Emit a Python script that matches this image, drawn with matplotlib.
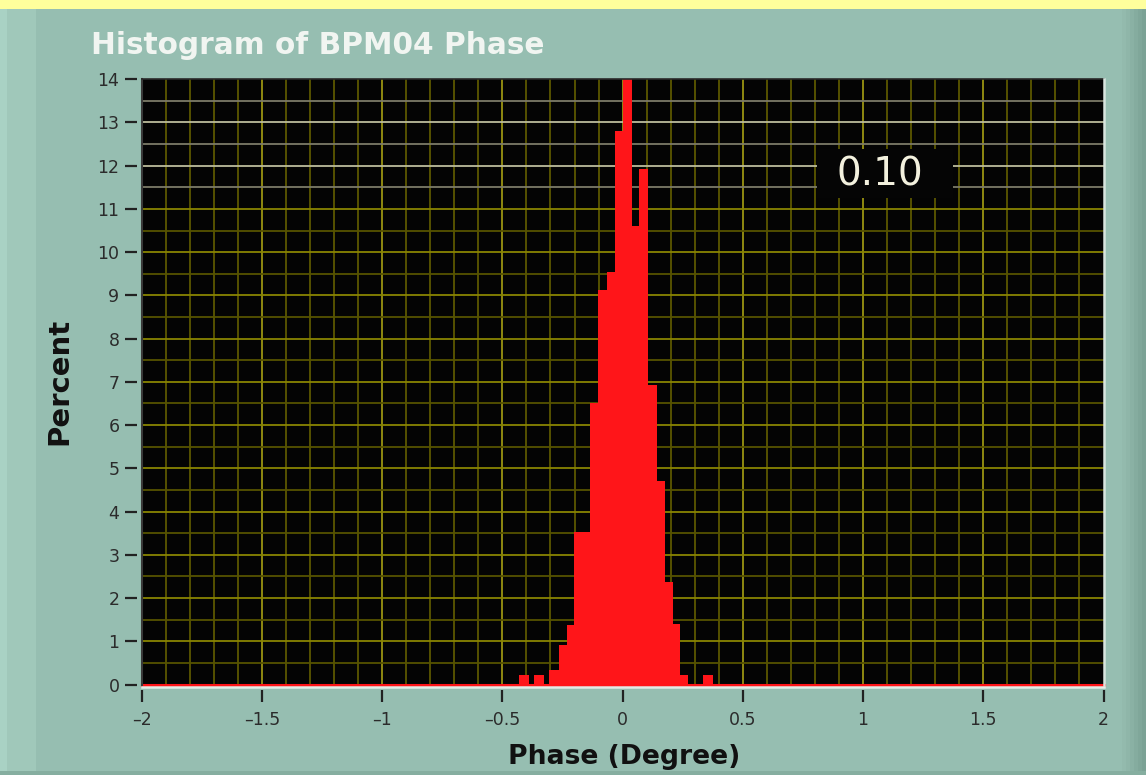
import numpy as np
import matplotlib
matplotlib.use("Agg")
import matplotlib.pyplot as plt
from matplotlib.patches import Rectangle
from matplotlib.lines import Line2D
import matplotlib.transforms as mtransforms

# ---------------- data ----------------
bin_edges = [-0.431, -0.389, -0.369, -0.327, -0.306, -0.264, -0.231, -0.202, -0.170,
             -0.137, -0.103, -0.064, -0.033, 0.001, 0.039, 0.068, 0.104, 0.143,
             0.176, 0.209, 0.239, 0.271, 0.334, 0.375]
percent = [0.22, 0.0, 0.22, 0.0, 0.33, 0.92, 1.38, 3.52, 3.52, 6.51, 9.13, 9.55,
           12.8, 14.0, 10.6, 11.92, 6.93, 4.71, 2.36, 1.39, 0.22, 0.0, 0.22]
x_ticks = [-2, -1.5, -1, -0.5, 0, 0.5, 1, 1.5, 2]
x_tick_labels = ["\u20132", "\u20131.5", "\u20131", "\u20130.5", "0", "0.5", "1", "1.5", "2"]
y_ticks = list(range(0, 15))
y_tick_labels = [str(v) for v in y_ticks]
title_text = "Histogram of BPM04 Phase"
x_label = "Phase (Degree)"
y_label = "Percent"
readout_text = "0.10"

# ---------------- figure ----------------
W, H = 1146, 775
fig = plt.figure(figsize=(W / 100, H / 100), dpi=100)
fig.patch.set_facecolor("#96BEB1")


def px_rect(x0, y0, x1, y1, color, z=0):
    fig.add_artist(Rectangle((x0 / W, 1 - y1 / H), (x1 - x0) / W, (y1 - y0) / H,
                             transform=fig.transFigure, facecolor=color,
                             edgecolor="none", zorder=z))


# panel decorations
px_rect(0, 0, W, 8.5, "#FFFF9C")
px_rect(0, 8.5, 7, H, "#A9D2C4")
px_rect(7, 8.5, 36, H, "#A0C8BA")
right_cols = ["#93BAAD", "#8FB6A9", "#8AB1A4", "#85AC9F", "#80A79A", "#7BA295"]
for i, c in enumerate(right_cols):
    px_rect(1122 + i * 4, 8.5, 1126 + i * 4, H, c)
px_rect(0, 771, W, H, "#86AEA0")

# axes
x0p, x1p = 141.7, 1103.5
y14p, y0p = 79.2, 684.5
ax = fig.add_axes([x0p / W, 1 - y0p / H, (x1p - x0p) / W, (y0p - y14p) / H])
ax.set_facecolor("#040404")
ax.set_xlim(-2, 2)
ax.set_ylim(0, 14)

# grid (drawn manually to allow per-line colours)
for k in range(-19, 20):
    v = k / 10
    major = (k % 5 == 0)
    ax.axvline(v, color="#9A9412" if major else "#5C5800", lw=1.3, zorder=0.5)
for k in range(1, 28):
    v = k / 2
    integer = (k % 2 == 0)
    if v >= 11.5:
        col = "#BDBC9C" if integer else "#7C7B68"
    else:
        col = "#8A8502" if integer else "#575300"
    ax.axhline(v, color=col, lw=1.3, zorder=0.5)

# histogram
ax.stairs(percent, bin_edges, fill=True, color="#FF1519", zorder=2)
ax.axhline(0, color="#FF1519", lw=2.2, clip_on=False, zorder=3)

# ticks
ax.set_xticks(x_ticks)
ax.set_xticklabels(x_tick_labels)
ax.set_yticks(y_ticks)
ax.set_yticklabels(y_tick_labels)
for s in ax.spines.values():
    s.set_visible(False)
ax.spines["left"].set_position(("outward", 3.6))
ax.spines["bottom"].set_position(("outward", 4.0))
ax.tick_params(which="major", direction="out", length=8.6, width=1.6,
               color="#222222", labelsize=12.5, labelcolor="#2B2B2B", pad=3.8)
ax.tick_params(axis="x", pad=6.5)

# frame (3D inset look)
ax.add_line(Line2D([0, 0], [0, 1], transform=ax.transAxes, color="#3A3A3A",
                   lw=1.5, clip_on=False, zorder=5))
ax.add_line(Line2D([0, 1], [1, 1], transform=ax.transAxes, color="#2A2A2A",
                   lw=1.2, clip_on=False, zorder=5))
ax.add_line(Line2D([1, 1], [0, 1], transform=ax.transAxes, color="#D8E5DF",
                   lw=1.8, clip_on=False, zorder=5))
off = mtransforms.offset_copy(ax.transAxes, fig=fig, x=0, y=-2.2, units="dots")
ax.add_line(Line2D([0, 1.001], [0, 0], transform=off, color="#E3ECE7",
                   lw=1.8, clip_on=False, zorder=5))

# readout box
ax.add_patch(Rectangle((0.81, 11.25), 0.565, 1.13, facecolor="#050505",
                       edgecolor="none", zorder=4))
ax.text(1.071, 11.80, readout_text, ha="center", va="center", fontsize=28,
        color="#F3F1DE", zorder=6, family="DejaVu Sans")

# texts
t_title = fig.text(91 / W, 1 - 53.5 / H, title_text, ha="left", va="baseline",
                   fontsize=20, fontweight="bold", color="#F1F5F1")
t_x = fig.text(624 / W, 1 - 764 / H, x_label, ha="center", va="baseline",
               fontsize=17, fontweight="bold", color="#111111")
t_y = fig.text(59 / W, 1 - 381 / H, y_label, ha="center", va="center",
               rotation=90, fontsize=20, fontweight="bold", color="#111111")

fig.canvas.draw()
r = fig.canvas.get_renderer()
bb = t_title.get_window_extent(r)
t_title.set_fontsize(t_title.get_fontsize() * 454 / bb.width)
bb = t_x.get_window_extent(r)
t_x.set_fontsize(t_x.get_fontsize() * 232 / bb.width)
bb = t_y.get_window_extent(r)
t_y.set_fontsize(t_y.get_fontsize() * 127 / bb.height)

fig.savefig("out.png", dpi=100, facecolor=fig.get_facecolor())
